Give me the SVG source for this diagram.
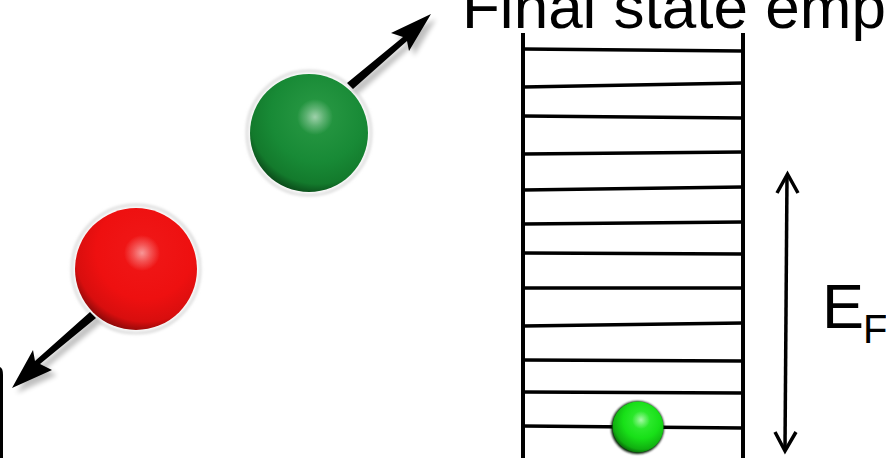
<svg xmlns="http://www.w3.org/2000/svg" width="886" height="458" viewBox="0 0 886 458">
  <defs>
    <style>
      .txt { font-family: "Liberation Sans", Arial, sans-serif; fill: #000; }
      .rung { stroke: #000; stroke-width: 3.5; fill: none; }
      .wall { stroke: #000; stroke-width: 4; fill: none; }
      .vec { fill: #000; }
      .halo { fill: none; stroke: #d8d8d8; stroke-width: 2.5; filter: url(#soft); }
    </style>
    <filter id="soft" x="-20%" y="-20%" width="140%" height="140%">
      <feGaussianBlur stdDeviation="1.6"/>
    </filter>
    <filter id="shadow" x="-30%" y="-30%" width="160%" height="160%">
      <feGaussianBlur stdDeviation="2.5"/>
    </filter>
    <filter id="edge" x="-20%" y="-20%" width="140%" height="140%">
      <feGaussianBlur stdDeviation="0.8"/>
    </filter>
    <!-- body shading: lit from upper right, dark rim lower left -->
    <radialGradient id="greenBody" cx="0.58" cy="0.36" r="0.72" fx="0.56" fy="0.34">
      <stop offset="0" stop-color="#2a9a45"/>
      <stop offset="0.55" stop-color="#188a36"/>
      <stop offset="0.8" stop-color="#137a2c"/>
      <stop offset="1" stop-color="#062c0e"/>
    </radialGradient>
    <radialGradient id="redBody" cx="0.58" cy="0.36" r="0.72" fx="0.56" fy="0.34">
      <stop offset="0" stop-color="#f01818"/>
      <stop offset="0.55" stop-color="#ee1010"/>
      <stop offset="0.8" stop-color="#d80e0e"/>
      <stop offset="1" stop-color="#5a0606"/>
    </radialGradient>
    <radialGradient id="limeBody" cx="0.58" cy="0.38" r="0.72" fx="0.56" fy="0.35">
      <stop offset="0" stop-color="#3cf03c"/>
      <stop offset="0.5" stop-color="#18e018"/>
      <stop offset="0.78" stop-color="#10b010"/>
      <stop offset="1" stop-color="#042804"/>
    </radialGradient>
    <radialGradient id="spot" cx="0.5" cy="0.5" r="0.5">
      <stop offset="0" stop-color="#ffffff" stop-opacity="0.55"/>
      <stop offset="0.5" stop-color="#ffffff" stop-opacity="0.25"/>
      <stop offset="1" stop-color="#ffffff" stop-opacity="0"/>
    </radialGradient>
  </defs>

  <rect width="886" height="458" fill="#ffffff"/>

  <!-- heading, running off the right edge -->
  <g id="title">
    <text class="txt" x="462" y="28" font-size="62">Final state emp</text>
  </g>

  <!-- bracket fragment at the left border -->
  <g id="bracket">
    <path d="M0,367 Q3,368 3,375 V458 H0 Z" fill="#000"/>
  </g>

  <!-- the pair of particles -->
  <g id="green-ball">
    <circle class="halo" cx="309" cy="133" r="62"/>
    <circle cx="309" cy="133" r="59" fill="url(#greenBody)"/>
    <circle cx="315" cy="117" r="18" fill="url(#spot)"/>
  </g>
  <g id="red-ball">
    <circle class="halo" cx="136" cy="269" r="64"/>
    <circle cx="136" cy="269" r="61" fill="url(#redBody)"/>
    <circle cx="142" cy="253" r="18" fill="url(#spot)"/>
  </g>

  <!-- the energy ladder -->
  <g id="ladder">
    <line class="wall" x1="523" y1="33" x2="523" y2="458"/>
    <line class="wall" x1="743" y1="33" x2="743" y2="458"/>
    <line class="rung" x1="523" y1="49" x2="743" y2="51"/>
    <line class="rung" x1="523" y1="87" x2="743" y2="83"/>
    <line class="rung" x1="523" y1="116" x2="743" y2="118"/>
    <line class="rung" x1="523" y1="154" x2="743" y2="152"/>
    <line class="rung" x1="523" y1="190" x2="743" y2="187"/>
    <line class="rung" x1="523" y1="224" x2="743" y2="222"/>
    <line class="rung" x1="523" y1="253" x2="743" y2="254"/>
    <line class="rung" x1="523" y1="288" x2="743" y2="288"/>
    <line class="rung" x1="523" y1="326" x2="743" y2="323"/>
    <line class="rung" x1="523" y1="360" x2="743" y2="361"/>
    <line class="rung" x1="523" y1="392" x2="743" y2="393"/>
    <line class="rung" x1="523" y1="426" x2="743" y2="428"/>
  </g>

  <g id="lime-ball">
    <circle cx="637.5" cy="427.5" r="26.5" fill="#021a02" filter="url(#edge)"/>
    <circle cx="638" cy="427" r="25.5" fill="url(#limeBody)"/>
    <circle cx="641" cy="420" r="9" fill="url(#spot)"/>
  </g>

  <!-- motion arrows and the Fermi-energy span -->
  <g id="connectors">
    <g opacity="0.25" filter="url(#shadow)" transform="translate(5,5)">
      <polygon points="347,83 403,37 391,33 431,14 409,51 407,41 353,89" fill="#000"/>
      <polygon points="96,318 40,364 52,370 12,388 33,350 35,361 90,312" fill="#000"/>
    </g>
    <polygon class="vec" points="347,83 403,37 391,33 431,14 409,51 407,41 353,89"/>
    <polygon class="vec" points="96,318 40,364 52,370 12,388 33,350 35,361 90,312"/>

    <line x1="787" y1="176" x2="785" y2="449" stroke="#000" stroke-width="3.5"/>
    <polyline points="777,193 787.5,174 798,193" fill="none" stroke="#000" stroke-width="3.5"/>
    <polyline points="775,432 785,451 796,432" fill="none" stroke="#000" stroke-width="3.5"/>
  </g>

  <g id="fermi-label">
    <text class="txt" x="822" y="328" font-size="63">E</text>
    <text class="txt" x="863" y="343" font-size="40">F</text>
  </g>
</svg>
